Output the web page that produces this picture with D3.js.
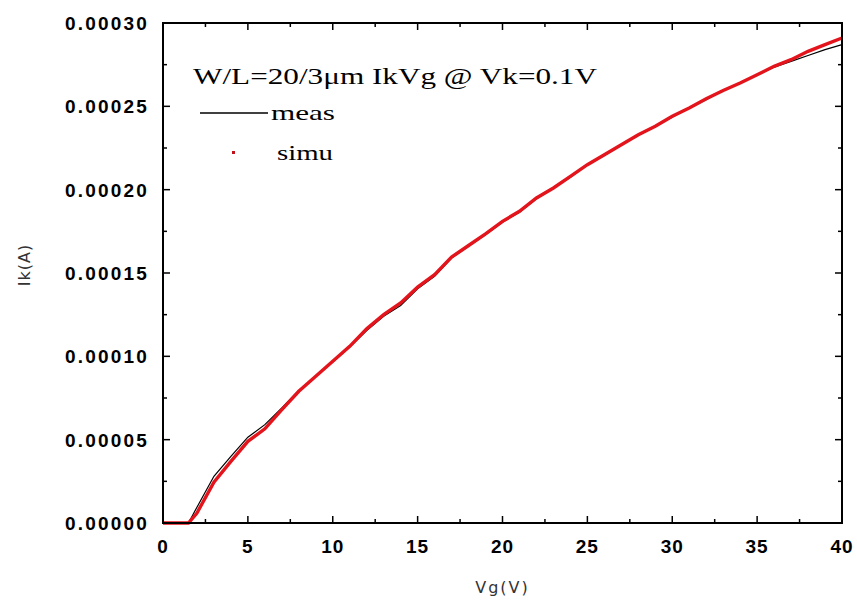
<!DOCTYPE html>
<html>
<head>
<meta charset="utf-8">
<script src="https://cdn.jsdelivr.net/npm/d3@7"></script>
<style>
  body { margin: 0; background: #fff; }
</style>
</head>
<body>
<div id="chart"></div>
<script>
// gate voltage points (V)
const vg = [0, 1, 1.5, 2, 3, 4, 5, 6, 7, 8, 9, 10, 11, 12, 13, 14, 15, 16, 17, 18, 19, 20,
  21, 22, 23, 24, 25, 26, 27, 28, 29, 30, 31, 32, 33, 34, 35, 36, 37, 38, 39, 40];

// measured Ik (A)
const meas = [0, 0, 0, 0.0000095, 0.0000280, 0.0000400, 0.0000515, 0.0000590, 0.0000690, 0.0000795,
  0.0000880, 0.0000965, 0.0001055, 0.0001155, 0.0001240, 0.0001305, 0.0001405, 0.0001480, 0.0001590,
  0.0001660, 0.0001730, 0.0001805, 0.0001865, 0.0001945, 0.0002010, 0.0002075, 0.0002150, 0.0002205,
  0.0002270, 0.0002325, 0.0002380, 0.0002435, 0.0002490, 0.0002540, 0.0002595, 0.0002640, 0.0002690,
  0.0002735, 0.0002770, 0.0002805, 0.0002840, 0.0002870];

// simulated Ik (A)
const simu = [0, 0, 0, 0.0000060, 0.0000245, 0.0000370, 0.0000490, 0.0000565, 0.0000680, 0.0000790,
  0.0000880, 0.0000970, 0.0001060, 0.0001165, 0.0001250, 0.0001320, 0.0001415, 0.0001490, 0.0001595,
  0.0001665, 0.0001735, 0.0001810, 0.0001870, 0.0001950, 0.0002010, 0.0002080, 0.0002150, 0.0002210,
  0.0002270, 0.0002330, 0.0002380, 0.0002440, 0.0002490, 0.0002545, 0.0002595, 0.0002640, 0.0002690,
  0.0002740, 0.0002780, 0.0002830, 0.0002870, 0.0002910];

const xTicks = [0, 5, 10, 15, 20, 25, 30, 35, 40];
const yTicks = [0, 0.00005, 0.0001, 0.00015, 0.0002, 0.00025, 0.0003];

const title = "W/L=20/3\u03bcm IkVg @ Vk=0.1V";

const width = 857, height = 605;
const margin = {left: 163, right: 15, top: 23, bottom: 82};

const svg = d3.select("#chart").append("svg")
  .attr("width", width)
  .attr("height", height);

const x = d3.scaleLinear().domain([0, 40]).range([margin.left, width - margin.right]);
const y = d3.scaleLinear().domain([0, 0.0003]).range([height - margin.bottom, margin.top]);

const x0 = x.range()[0], x1 = x.range()[1];
const y0 = y.range()[0], y1 = y.range()[1];

// inward ticks on every side, major + minor
const tickFont = "Liberation Sans, Arial, sans-serif";
const xMinor = d3.range(0, 40.01, 2.5);
const yMinor = d3.range(0, 0.000301, 0.000025);

xMinor.forEach(v => {
  const major = xTicks.some(t => Math.abs(t - v) < 1e-9);
  const len = major ? 7 : 4;
  svg.append("line").attr("x1", x(v)).attr("x2", x(v)).attr("y1", y0).attr("y2", y0 - len)
    .attr("stroke", "#000").attr("stroke-width", 1.5);
  svg.append("line").attr("x1", x(v)).attr("x2", x(v)).attr("y1", y1).attr("y2", y1 + len)
    .attr("stroke", "#000").attr("stroke-width", 1.5);
});
yMinor.forEach(v => {
  const major = yTicks.some(t => Math.abs(t - v) < 1e-9);
  const len = major ? 7 : 4;
  svg.append("line").attr("y1", y(v)).attr("y2", y(v)).attr("x1", x0).attr("x2", x0 + len)
    .attr("stroke", "#000").attr("stroke-width", 1.5);
  svg.append("line").attr("y1", y(v)).attr("y2", y(v)).attr("x1", x1).attr("x2", x1 - len)
    .attr("stroke", "#000").attr("stroke-width", 1.5);
});

// tick labels
svg.selectAll(".xl").data(xTicks).enter().append("text")
  .attr("x", d => x(d))
  .attr("y", y0 + 30)
  .attr("text-anchor", "middle")
  .style("font-family", tickFont)
  .style("font-weight", "bold")
  .style("font-size", "19px")
  .style("letter-spacing", "1px")
  .text(d => d);

svg.selectAll(".yl").data(yTicks).enter().append("text")
  .attr("x", x0 - 14)
  .attr("y", d => y(d) + 7)
  .attr("text-anchor", "end")
  .style("font-family", tickFont)
  .style("font-weight", "bold")
  .style("font-size", "19px")
  .style("letter-spacing", "2.2px")
  .text(d => d.toFixed(5));

// axis titles
svg.append("text")
  .attr("x", x(20))
  .attr("y", 593)
  .attr("text-anchor", "middle")
  .style("font-family", "DejaVu Sans, sans-serif")
  .style("font-size", "16px")
  .style("letter-spacing", "2px")
  .style("fill", "#333")
  .text("Vg(V)");

svg.append("text")
  .attr("transform", "translate(30,265) rotate(-90)")
  .attr("text-anchor", "middle")
  .style("font-family", "DejaVu Sans, sans-serif")
  .style("font-size", "16px")
  .style("letter-spacing", "1px")
  .style("fill", "#333")
  .text("Ik(A)");

// curves
const line = d3.line().x((d, i) => x(vg[i])).y(d => y(d));

svg.append("path").datum(meas)
  .attr("d", line)
  .attr("fill", "none")
  .attr("stroke", "#000")
  .attr("stroke-width", 1.2);

svg.append("path").datum(simu)
  .attr("d", line)
  .attr("fill", "none")
  .attr("stroke", "#e3141b")
  .attr("stroke-width", 3.4);

// frame
svg.append("rect")
  .attr("x", x0).attr("y", y1)
  .attr("width", x1 - x0).attr("height", y0 - y1)
  .attr("fill", "none").attr("stroke", "#000").attr("stroke-width", 2);

// legend
const serif = "Liberation Serif, Times New Roman, serif";
svg.append("text")
  .attr("x", 193).attr("y", 84)
  .attr("textLength", 404)
  .attr("lengthAdjust", "spacingAndGlyphs")
  .style("font-family", serif)
  .style("font-size", "23px")
  .text(title);

svg.append("line")
  .attr("x1", 200).attr("x2", 268).attr("y1", 113).attr("y2", 113)
  .attr("stroke", "#000").attr("stroke-width", 1.5);
svg.append("text")
  .attr("x", 271).attr("y", 120)
  .attr("textLength", 64)
  .attr("lengthAdjust", "spacingAndGlyphs")
  .style("font-family", serif)
  .style("font-size", "21px")
  .text("meas");

svg.append("rect")
  .attr("x", 232).attr("y", 151).attr("width", 3).attr("height", 3)
  .attr("fill", "#c0101a");
svg.append("text")
  .attr("x", 277).attr("y", 160)
  .attr("textLength", 56)
  .attr("lengthAdjust", "spacingAndGlyphs")
  .style("font-family", serif)
  .style("font-size", "21px")
  .text("simu");
</script>
</body>
</html>
